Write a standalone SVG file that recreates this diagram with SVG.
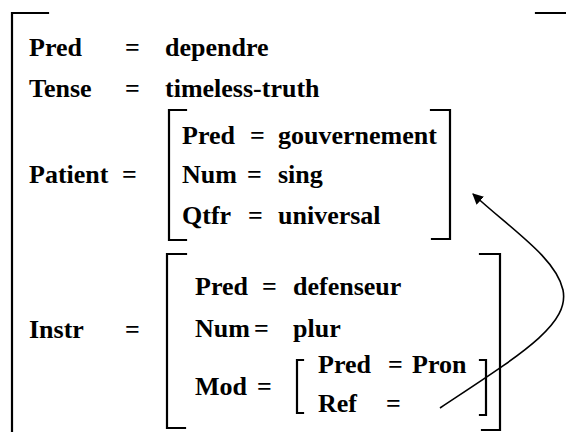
<svg xmlns="http://www.w3.org/2000/svg" width="566" height="432" viewBox="0 0 566 432">
<style>
.t{font-family:"Liberation Serif","Times New Roman",serif;font-size:26px;font-weight:bold;fill:#000}
.br{fill:none;stroke:#000;stroke-width:2.2;stroke-linecap:square}
.cn{fill:none;stroke:#000;stroke-width:1.6}
</style>
<defs>
<marker id="ah" viewBox="0 0 10 10" refX="9" refY="5" markerWidth="11" markerHeight="11" markerUnits="userSpaceOnUse" orient="auto">
<path d="M0,0 L10,5 L0,10 z" fill="#000"/>
</marker>
</defs>
<g id="outer">
<path class="br" d="M48,13 H12 V432"/>
<path class="br" d="M536,13 H566"/>
<text class="t" x="29" y="56">Pred</text>
<text class="t" x="125" y="56">=</text>
<text class="t" x="165" y="56">dependre</text>
<text class="t" x="29" y="97">Tense</text>
<text class="t" x="125" y="97">=</text>
<text class="t" x="165" y="97">timeless-truth</text>
<text class="t" x="29" y="183">Patient</text>
<text class="t" x="122" y="183">=</text>
<text class="t" x="29" y="338">Instr</text>
<text class="t" x="125" y="338">=</text>
</g>
<g id="patient">
<path class="br" d="M186,110 H169 V240 H186"/>
<path class="br" d="M431,110 H450 V239 H432"/>
<text class="t" x="182" y="144">Pred</text>
<text class="t" x="250" y="144">=</text>
<text class="t" x="278" y="144">gouvernement</text>
<text class="t" x="182" y="183">Num</text>
<text class="t" x="247" y="183">=</text>
<text class="t" x="278" y="183">sing</text>
<text class="t" x="182" y="224">Qtfr</text>
<text class="t" x="248" y="224">=</text>
<text class="t" x="278" y="224">universal</text>
</g>
<g id="instr">
<path class="br" d="M186,254 H167 V428 H185"/>
<path class="br" d="M480,254 H500 V430 H482"/>
<text class="t" x="195" y="295">Pred</text>
<text class="t" x="262" y="295">=</text>
<text class="t" x="293" y="295">defenseur</text>
<text class="t" x="195" y="337">Num</text>
<text class="t" x="254" y="337">=</text>
<text class="t" x="293" y="337">plur</text>
<text class="t" x="195" y="395">Mod</text>
<text class="t" x="257" y="395">=</text>
</g>
<g id="mod">
<path class="br" d="M303,360 H297 V413 H303"/>
<path class="br" d="M480,360 H486 V415 H480"/>
<text class="t" x="318" y="373">Pred</text>
<text class="t" x="388" y="373">=</text>
<text class="t" x="412" y="373">Pron</text>
<text class="t" x="318" y="412">Ref</text>
<text class="t" x="386" y="412">=</text>
</g>
<g id="connectors">
<path class="cn" d="M440,408 C520,355 570,325 563,290 C556,258 512,230 473,194" marker-end="url(#ah)"/>
</g>
</svg>
